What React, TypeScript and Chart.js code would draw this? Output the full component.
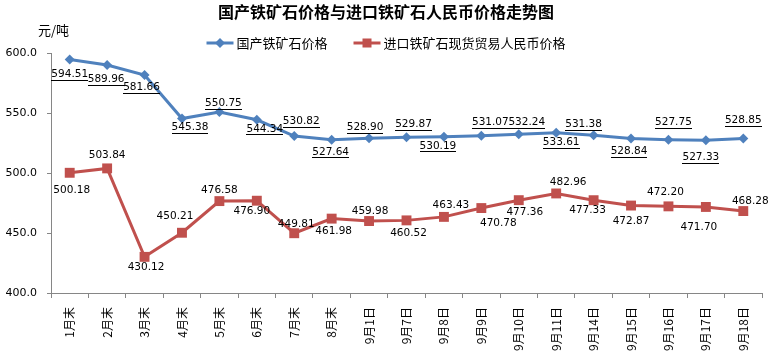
import React, { useEffect, useRef } from 'react';
import { Chart, registerables } from 'chart.js';

Chart.register(...registerables);

const chartTitle = '国产铁矿石价格与进口铁矿石人民币价格走势图';
const unitLabel = '元/吨';
const seriesNames = ['国产铁矿石价格', '进口铁矿石现货贸易人民币价格'];
const categories = ['1月末', '2月末', '3月末', '4月末', '5月末', '6月末', '7月末', '8月末', '9月1日', '9月7日', '9月8日', '9月9日', '9月10日', '9月11日', '9月14日', '9月15日', '9月16日', '9月17日', '9月18日'];
const domesticPrices = [594.51, 589.96, 581.66, 545.38, 550.75, 544.34, 530.82, 527.64, 528.90, 529.87, 530.19, 531.07, 532.24, 533.61, 531.38, 528.84, 527.75, 527.33, 528.85];
const importPrices = [500.18, 503.84, 430.12, 450.21, 476.58, 476.90, 449.81, 461.98, 459.98, 460.52, 463.43, 470.78, 477.36, 482.96, 477.33, 472.87, 472.20, 471.70, 468.28];
const yTickValues = [400, 450, 500, 550, 600];

// data-label placement relative to each point: [dx, dy] in px
const domesticLabelOffsets = [[0, 14.5], [-1, 14], [-3, 12.5], [8, 8.5], [4, -9], [8, 9], [7, -15], [-1, 12], [-4, -11], [7, -13], [-6, 9], [9, -13.5], [8, -12], [5, 10], [-10, -11], [-2, 13], [5, -17], [-5, 17], [0, -18]];
const importLabelOffsets = [[2, 17], [0, -13], [1.5, 10], [-7, -16], [0, -11], [-5, 11], [2, -9], [2, 13], [1, -10], [2, 12.5], [7, -12], [17, 15], [6, 12], [12, -11], [-6, 10], [0, 16], [-3, -14], [-7, 20], [7, -10]];

const BLUE = '#4F81BD';
const RED = '#C0504D';
const AXIS = '#868686';
const CJK = '"Noto Sans CJK SC", "Noto Sans", sans-serif';
const NUM = '"DejaVu Sans", sans-serif';

function drawDiamond(ctx: CanvasRenderingContext2D, x: number, y: number, r: number, color: string) {
  ctx.beginPath();
  ctx.moveTo(x, y - r);
  ctx.lineTo(x + r, y);
  ctx.lineTo(x, y + r);
  ctx.lineTo(x - r, y);
  ctx.closePath();
  ctx.fillStyle = color;
  ctx.fill();
}

function drawSquare(ctx: CanvasRenderingContext2D, x: number, y: number, h: number, color: string) {
  ctx.fillStyle = color;
  ctx.fillRect(x - h, y - h, 2 * h, 2 * h);
}

const decorPlugin = {
  id: 'decor',
  beforeDraw(chart: any) {
    const ctx = chart.ctx;
    ctx.save();
    ctx.fillStyle = '#ffffff';
    ctx.fillRect(0, 0, chart.width, chart.height);
    ctx.restore();
  },
  afterDatasetsDraw(chart: any) {
    const ctx: CanvasRenderingContext2D = chart.ctx;
    ctx.save();
    ctx.font = `10.5px ${NUM}`;
    ctx.textAlign = 'center';
    ctx.textBaseline = 'middle';
    ctx.fillStyle = '#000000';
    ctx.strokeStyle = '#000000';
    ctx.lineWidth = 1;
    const sets = [
      { values: domesticPrices, offsets: domesticLabelOffsets, underline: true },
      { values: importPrices, offsets: importLabelOffsets, underline: false },
    ];
    sets.forEach((s, di) => {
      const meta = chart.getDatasetMeta(di);
      meta.data.forEach((pt: any, i: number) => {
        const txt = s.values[i].toFixed(2);
        const x = pt.x + s.offsets[i][0];
        const y = pt.y + s.offsets[i][1];
        ctx.fillText(txt, x, y);
        if (s.underline) {
          const w = ctx.measureText(txt).width;
          ctx.beginPath();
          ctx.moveTo(Math.round(x - w / 2), Math.round(y + 5.5) + 0.5);
          ctx.lineTo(Math.round(x + w / 2), Math.round(y + 5.5) + 0.5);
          ctx.stroke();
        }
      });
    });
    ctx.restore();
  },
  afterDraw(chart: any) {
    const ctx: CanvasRenderingContext2D = chart.ctx;
    ctx.save();
    // title
    ctx.fillStyle = '#000000';
    ctx.font = `bold 16px ${CJK}`;
    ctx.textAlign = 'center';
    ctx.textBaseline = 'middle';
    ctx.fillText(chartTitle, chart.width / 2, 12);
    // unit
    ctx.font = `13px ${CJK}`;
    ctx.textAlign = 'left';
    ctx.fillText(unitLabel, 38, 30);
    // legend
    const lineW = 27;
    const gap = 3;
    const spacing = 26;
    const w1 = ctx.measureText(seriesNames[0]).width;
    const w2 = ctx.measureText(seriesNames[1]).width;
    const total = lineW + gap + w1 + spacing + lineW + gap + w2;
    let x = chart.width / 2 - total / 2;
    const ly = 43;
    const items = [
      { name: seriesNames[0], color: BLUE, w: w1, marker: 'diamond' },
      { name: seriesNames[1], color: RED, w: w2, marker: 'square' },
    ];
    items.forEach((it) => {
      ctx.strokeStyle = it.color;
      ctx.lineWidth = 3;
      ctx.beginPath();
      ctx.moveTo(x, ly);
      ctx.lineTo(x + lineW, ly);
      ctx.stroke();
      if (it.marker === 'diamond') drawDiamond(ctx, x + lineW / 2, ly, 5, it.color);
      else drawSquare(ctx, x + lineW / 2, ly, 4.5, it.color);
      ctx.fillStyle = '#000000';
      ctx.fillText(it.name, x + lineW + gap, ly);
      x += lineW + gap + it.w + spacing;
    });
    ctx.restore();
  },
};

export default function App() {
  const canvasRef = useRef<HTMLCanvasElement | null>(null);

  useEffect(() => {
    document.body.style.margin = '0';
    const canvas = canvasRef.current;
    if (!canvas) return;
    const chart = new Chart(canvas, {
      type: 'line',
      data: {
        labels: categories,
        datasets: [
          {
            label: seriesNames[0],
            data: domesticPrices,
            borderColor: BLUE,
            backgroundColor: BLUE,
            borderWidth: 3,
            pointStyle: 'rectRot',
            pointRadius: 5,
            pointBorderWidth: 0,
            pointBackgroundColor: BLUE,
            tension: 0,
          },
          {
            label: seriesNames[1],
            data: importPrices,
            borderColor: RED,
            backgroundColor: RED,
            borderWidth: 3,
            pointStyle: 'rect',
            pointRadius: 7,
            pointBorderWidth: 0,
            pointBackgroundColor: RED,
            tension: 0,
          },
        ],
      },
      options: {
        responsive: false,
        animation: false,
        devicePixelRatio: 1,
        layout: { padding: { top: 53, right: 10, left: 0, bottom: 0 } },
        plugins: {
          legend: { display: false },
          title: { display: false },
          tooltip: { enabled: false },
        },
        scales: {
          x: {
            type: 'category',
            offset: true,
            afterFit: (scale: any) => { scale.height = 62; },
            grid: {
              offset: true,
              drawOnChartArea: false,
              drawTicks: true,
              tickLength: 5,
              color: AXIS,
            },
            border: { display: true, color: AXIS, width: 1 },
            ticks: {
              autoSkip: false,
              minRotation: 90,
              maxRotation: 90,
              padding: 9,
              color: '#000000',
              font: { family: CJK, size: 12 },
            },
          },
          y: {
            min: 400,
            max: 600,
            afterFit: (scale: any) => { scale.width = 51; },
            afterBuildTicks: (scale: any) => { scale.ticks = yTickValues.map((v) => ({ value: v })); },
            grid: {
              drawOnChartArea: false,
              drawTicks: true,
              tickLength: 4,
              color: AXIS,
            },
            border: { display: true, color: AXIS, width: 1 },
            ticks: {
              padding: 10,
              color: '#000000',
              font: { family: NUM, size: 11 },
              callback: (v: any) => Number(v).toFixed(1),
            },
          },
        },
      },
      plugins: [decorPlugin],
    });
    return () => chart.destroy();
  }, []);

  return (
    <div style={{ width: 772, height: 355 }}>
      <canvas ref={canvasRef} width={772} height={355} style={{ display: 'block' }} />
    </div>
  );
}
